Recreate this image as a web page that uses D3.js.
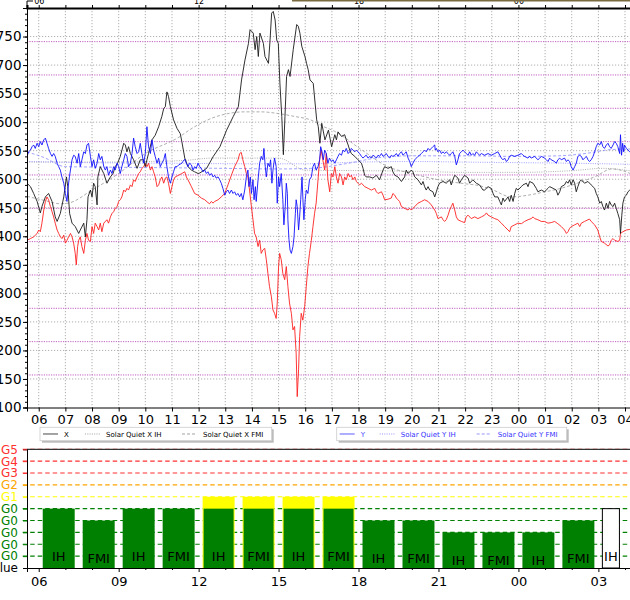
<!DOCTYPE html>
<html><head><meta charset="utf-8">
<script src="https://cdn.jsdelivr.net/npm/d3@7"></script>
<style>body{margin:0;background:#fff}svg{display:block}text{font-family:"DejaVu Sans",sans-serif}</style>
</head><body><svg id="c" width="630" height="600"></svg>
<script>
// ---------- DATA (t = hours since 00:00 of first day, values in nT-like units) ----------
const seriesX = [[5.56,493],[5.69,487],[5.81,475],[5.94,461],[6.06,441],[6.12,452],[6.25,469],[6.37,475],[6.50,461],[6.62,434],[6.69,426],[6.81,440],[6.94,469],[7.04,504],[7.09,487],[7.16,440],[7.25,423],[7.37,417],[7.50,405],[7.56,411],[7.69,423],[7.75,399],[7.81,429],[7.85,469],[7.94,481],[8.00,469],[8.06,493],[8.12,487],[8.19,455],[8.22,504],[8.31,522],[8.44,510],[8.56,493],[8.69,504],[8.79,510],[8.87,522],[8.96,528],[9.06,540],[9.19,563],[9.25,560],[9.31,548],[9.37,557],[9.44,545],[9.56,534],[9.69,519],[9.81,534],[9.94,534],[10.0,522],[10.06,534],[10.12,545],[10.25,569],[10.37,577],[10.50,592],[10.62,610],[10.69,624],[10.75,627],[10.81,653],[10.87,645],[10.94,627],[11.06,604],[11.19,589],[11.31,580],[11.37,566],[11.48,537],[11.60,522],[11.73,516],[11.85,513],[11.98,510],[12.05,511],[12.30,519],[12.55,540],[12.80,557],[13.05,586],[13.30,610],[13.49,627],[13.61,674],[13.74,709],[13.87,738],[13.93,762],[14.05,756],[14.12,727],[14.18,750],[14.24,715],[14.30,756],[14.43,738],[14.49,715],[14.62,703],[14.68,744],[14.74,791],[14.80,794],[14.87,779],[14.93,744],[14.99,738],[15.05,668],[15.12,610],[15.18,543],[15.24,610],[15.30,680],[15.37,692],[15.43,680],[15.55,727],[15.68,771],[15.74,768],[15.80,756],[15.87,733],[15.99,715],[16.05,703],[16.11,692],[16.18,674],[16.30,668],[16.43,604],[16.49,592],[16.55,563],[16.62,598],[16.74,569],[16.87,586],[16.99,557],[17.11,578],[17.17,569],[17.23,583],[17.36,575],[17.48,578],[17.54,569],[17.61,560],[17.67,551],[17.73,545],[17.86,540],[17.98,534],[18.11,528],[18.17,519],[18.23,507],[18.29,504],[18.42,504],[18.54,502],[18.67,507],[18.79,499],[18.92,516],[18.98,522],[19.11,519],[19.23,522],[19.29,513],[19.36,507],[19.48,504],[19.61,496],[19.73,504],[19.79,516],[19.86,510],[19.98,516],[20.04,513],[20.11,504],[20.23,499],[20.36,490],[20.42,496],[20.48,487],[20.54,481],[20.61,487],[20.67,481],[20.79,478],[20.86,469],[20.92,478],[20.98,487],[21.04,493],[21.17,496],[21.29,493],[21.42,499],[21.48,490],[21.54,499],[21.61,507],[21.73,502],[21.79,493],[21.86,499],[21.98,507],[22.11,502],[22.17,493],[22.29,499],[22.42,493],[22.54,490],[22.67,481],[22.73,481],[22.86,487],[22.98,484],[23.05,475],[23.11,469],[23.23,469],[23.30,461],[23.36,455],[23.42,467],[23.48,461],[23.61,469],[23.67,461],[23.73,472],[23.80,461],[23.86,475],[23.92,484],[23.98,481],[24.11,487],[24.17,490],[24.30,493],[24.36,487],[24.42,496],[24.55,493],[24.67,484],[24.73,478],[24.86,481],[24.98,478],[25.11,484],[25.17,487],[25.30,484],[25.42,481],[25.48,472],[25.55,478],[25.61,487],[25.73,490],[25.80,496],[25.86,493],[25.92,499],[25.98,490],[26.05,499],[26.11,493],[26.17,478],[26.23,487],[26.30,496],[26.36,499],[26.48,493],[26.61,496],[26.73,490],[26.86,484],[26.92,475],[26.98,469],[27.05,458],[27.11,461],[27.17,452],[27.23,446],[27.30,458],[27.36,449],[27.42,461],[27.48,455],[27.55,452],[27.61,458],[27.67,449],[27.73,440],[27.80,429],[27.83,405],[27.88,437],[27.92,458],[27.98,469],[28.05,472],[28.11,478],[28.18,481],[28.30,483]];

const seriesRed = [[5.56,393],[5.69,396],[5.81,399],[5.94,405],[6.00,411],[6.06,408],[6.12,423],[6.19,446],[6.25,461],[6.31,469],[6.37,464],[6.44,452],[6.50,443],[6.56,434],[6.62,423],[6.69,411],[6.75,405],[6.81,399],[6.87,396],[6.94,402],[7.00,388],[7.06,393],[7.12,399],[7.19,405],[7.25,399],[7.31,388],[7.37,370],[7.41,350],[7.46,382],[7.50,393],[7.56,399],[7.62,382],[7.69,370],[7.75,393],[7.81,405],[7.87,393],[7.94,391],[8.00,417],[8.06,405],[8.12,423],[8.19,417],[8.25,411],[8.31,423],[8.37,408],[8.44,423],[8.56,429],[8.62,423],[8.69,434],[8.75,440],[8.81,443],[8.87,449],[8.94,452],[9.00,461],[9.06,464],[9.12,469],[9.19,481],[9.25,478],[9.31,484],[9.37,481],[9.44,490],[9.50,487],[9.56,499],[9.62,496],[9.69,504],[9.75,510],[9.81,513],[9.87,519],[9.94,522],[10.00,528],[10.06,522],[10.12,528],[10.19,516],[10.25,522],[10.31,513],[10.37,504],[10.44,487],[10.50,490],[10.56,499],[10.62,504],[10.69,493],[10.75,502],[10.81,504],[10.87,493],[10.94,475],[11.00,487],[11.06,499],[11.12,504],[11.25,507],[11.37,510],[11.48,513],[11.54,504],[11.60,499],[11.73,487],[11.85,475],[11.98,472],[12.10,467],[12.23,464],[12.35,459],[12.41,457],[12.48,461],[12.54,458],[12.60,461],[12.73,464],[12.85,469],[12.98,475],[13.10,490],[13.23,507],[13.35,522],[13.48,534],[13.54,545],[13.60,547],[13.66,534],[13.73,522],[13.79,510],[13.85,504],[13.91,481],[13.98,452],[14.04,429],[14.10,405],[14.16,399],[14.23,382],[14.29,393],[14.35,370],[14.41,376],[14.48,379],[14.54,359],[14.60,335],[14.66,312],[14.73,294],[14.79,271],[14.85,265],[14.91,256],[14.95,283],[15.00,347],[15.04,370],[15.10,359],[15.16,335],[15.23,324],[15.29,347],[15.35,312],[15.41,283],[15.48,265],[15.54,236],[15.60,242],[15.66,195],[15.70,119],[15.75,166],[15.79,224],[15.85,265],[15.91,253],[15.98,277],[16.04,312],[16.10,347],[16.16,370],[16.23,393],[16.29,417],[16.35,440],[16.41,458],[16.48,499],[16.54,534],[16.60,551],[16.66,534],[16.73,516],[16.79,545],[16.85,499],[16.92,478],[16.98,510],[17.04,504],[17.11,522],[17.17,504],[17.23,493],[17.29,510],[17.36,504],[17.42,490],[17.48,504],[17.54,499],[17.61,510],[17.67,504],[17.73,507],[17.79,499],[17.86,504],[17.92,496],[17.98,493],[18.04,490],[18.11,493],[18.23,487],[18.36,484],[18.48,481],[18.61,484],[18.67,478],[18.73,475],[18.86,478],[18.92,472],[18.98,464],[19.11,465],[19.23,467],[19.29,475],[19.36,472],[19.42,467],[19.48,464],[19.54,461],[19.61,452],[19.73,449],[19.86,446],[19.92,449],[19.98,446],[20.04,449],[20.11,452],[20.23,458],[20.36,461],[20.48,464],[20.61,461],[20.73,455],[20.86,446],[20.92,440],[20.98,431],[21.11,434],[21.17,429],[21.23,426],[21.29,429],[21.36,437],[21.42,446],[21.48,452],[21.54,458],[21.61,446],[21.67,434],[21.73,429],[21.86,426],[21.98,424],[22.04,434],[22.11,437],[22.23,431],[22.36,434],[22.48,431],[22.61,434],[22.73,437],[22.80,441],[22.86,437],[22.98,434],[23.11,431],[23.23,429],[23.36,423],[23.48,417],[23.61,411],[23.67,408],[23.73,417],[23.86,420],[23.98,423],[24.11,422],[24.23,426],[24.36,429],[24.48,431],[24.55,434],[24.61,431],[24.73,429],[24.86,426],[24.98,426],[25.11,423],[25.23,424],[25.36,426],[25.48,422],[25.61,417],[25.73,411],[25.80,405],[25.86,408],[25.92,414],[25.98,417],[26.11,420],[26.23,423],[26.30,417],[26.36,423],[26.48,426],[26.61,429],[26.67,430],[26.73,426],[26.86,420],[26.98,411],[27.05,399],[27.11,391],[27.23,388],[27.36,383],[27.42,385],[27.48,393],[27.55,396],[27.61,393],[27.73,391],[27.80,393],[27.83,405],[27.92,408],[28.05,411],[28.18,412],[28.30,413]];

const seriesY = [[5.56,540],[5.62,548],[5.69,551],[5.75,557],[5.81,560],[5.87,554],[5.94,563],[6.00,557],[6.06,566],[6.12,560],[6.19,569],[6.25,572],[6.31,563],[6.37,554],[6.44,545],[6.50,540],[6.56,545],[6.62,540],[6.69,528],[6.75,522],[6.81,516],[6.87,504],[6.94,493],[7.00,475],[7.06,461],[7.10,484],[7.15,504],[7.19,516],[7.25,534],[7.31,542],[7.37,540],[7.44,528],[7.50,545],[7.56,522],[7.62,534],[7.69,548],[7.75,545],[7.81,560],[7.87,563],[7.94,540],[8.00,522],[8.06,534],[8.12,519],[8.19,528],[8.25,545],[8.31,534],[8.37,540],[8.44,522],[8.50,516],[8.56,522],[8.62,507],[8.69,516],[8.75,510],[8.81,522],[8.87,516],[8.94,528],[9.00,522],[9.06,510],[9.12,522],[9.19,534],[9.25,545],[9.31,540],[9.37,522],[9.44,528],[9.50,545],[9.56,572],[9.62,557],[9.69,545],[9.75,548],[9.81,563],[9.87,545],[9.94,528],[10.00,545],[10.06,592],[10.12,557],[10.19,545],[10.25,569],[10.31,551],[10.37,540],[10.44,528],[10.50,537],[10.56,522],[10.62,528],[10.69,534],[10.75,545],[10.81,522],[10.87,504],[10.94,493],[11.00,504],[11.06,513],[11.12,522],[11.19,522],[11.25,525],[11.37,528],[11.41,531],[11.48,535],[11.54,528],[11.60,522],[11.66,528],[11.73,525],[11.79,516],[11.85,522],[11.91,519],[11.98,528],[12.04,522],[12.10,519],[12.16,513],[12.23,516],[12.29,510],[12.35,513],[12.41,507],[12.48,510],[12.54,504],[12.60,507],[12.66,502],[12.73,504],[12.79,499],[12.85,493],[12.91,484],[12.98,472],[13.04,478],[13.10,481],[13.16,475],[13.23,481],[13.29,475],[13.35,478],[13.41,472],[13.48,475],[13.54,469],[13.60,475],[13.66,464],[13.73,481],[13.79,504],[13.85,516],[13.89,487],[13.94,504],[13.98,475],[14.04,499],[14.08,464],[14.13,487],[14.16,461],[14.23,499],[14.29,528],[14.35,540],[14.41,534],[14.45,554],[14.50,522],[14.54,504],[14.60,528],[14.66,522],[14.70,534],[14.75,493],[14.79,516],[14.85,537],[14.91,522],[14.95,458],[15.00,504],[15.04,487],[15.10,510],[15.16,464],[15.20,420],[15.25,452],[15.29,493],[15.33,475],[15.35,429],[15.39,394],[15.43,376],[15.48,370],[15.54,382],[15.58,399],[15.63,440],[15.66,464],[15.70,452],[15.75,411],[15.79,434],[15.83,464],[15.88,504],[15.91,469],[15.95,429],[16.00,464],[16.04,481],[16.10,475],[16.16,499],[16.23,504],[16.29,522],[16.35,528],[16.41,516],[16.48,522],[16.54,534],[16.58,557],[16.63,548],[16.68,534],[16.73,551],[16.79,545],[16.85,528],[16.91,537],[16.98,531],[17.04,534],[17.11,528],[17.17,534],[17.23,540],[17.29,545],[17.36,542],[17.42,551],[17.48,548],[17.54,554],[17.61,545],[17.67,548],[17.73,554],[17.79,551],[17.86,548],[17.92,551],[17.98,548],[18.04,545],[18.11,540],[18.17,537],[18.23,540],[18.29,542],[18.36,537],[18.42,540],[18.48,537],[18.54,542],[18.61,540],[18.67,537],[18.73,542],[18.79,540],[18.86,545],[18.92,540],[18.98,542],[19.04,545],[19.11,540],[19.17,537],[19.23,542],[19.29,540],[19.36,542],[19.42,545],[19.48,540],[19.54,545],[19.61,548],[19.67,542],[19.73,545],[19.79,548],[19.86,537],[19.92,531],[19.98,522],[20.04,528],[20.11,534],[20.17,537],[20.23,540],[20.29,542],[20.36,545],[20.42,548],[20.48,551],[20.54,548],[20.61,554],[20.67,551],[20.73,554],[20.79,557],[20.86,560],[20.88,551],[20.92,554],[20.98,548],[21.04,551],[21.11,545],[21.17,548],[21.23,545],[21.29,548],[21.36,545],[21.42,542],[21.48,545],[21.54,548],[21.61,540],[21.67,525],[21.73,534],[21.79,545],[21.86,548],[21.92,551],[21.98,548],[22.04,545],[22.11,542],[22.17,548],[22.23,542],[22.29,545],[22.36,542],[22.42,548],[22.48,545],[22.54,542],[22.61,545],[22.73,542],[22.86,545],[22.98,542],[23.11,545],[23.23,548],[23.30,542],[23.36,537],[23.42,534],[23.48,537],[23.55,531],[23.61,534],[23.67,540],[23.73,542],[23.86,540],[23.98,542],[24.11,545],[24.17,542],[24.23,540],[24.36,537],[24.42,540],[24.48,537],[24.61,540],[24.73,534],[24.80,537],[24.86,540],[24.98,537],[25.05,534],[25.11,531],[25.17,537],[25.23,534],[25.36,531],[25.42,528],[25.48,534],[25.55,537],[25.61,534],[25.73,537],[25.80,531],[25.86,534],[25.92,531],[25.98,522],[26.05,516],[26.11,522],[26.17,528],[26.23,540],[26.30,542],[26.36,540],[26.42,534],[26.48,537],[26.55,540],[26.61,534],[26.67,531],[26.73,534],[26.80,540],[26.86,548],[26.92,557],[26.98,563],[27.05,560],[27.11,566],[27.17,557],[27.23,554],[27.30,560],[27.36,563],[27.42,557],[27.48,554],[27.55,560],[27.61,566],[27.67,563],[27.73,557],[27.80,545],[27.83,578],[27.87,542],[27.91,563],[27.95,548],[27.98,560],[28.05,554],[28.11,551],[28.18,548],[28.30,550]];

// Solar quiet reference curves (smooth)
const sqXIH  = [[5.56,530],[8,530],[10,531],[11.5,533],[12.5,537],[15.0,537],[16.0,516],[18,515],[20,514],[22,512],[24,512],[26,515],[27.2,519],[28.3,514]];
const sqXFMI = [[5.56,470],[6.2,463],[6.8,457],[7.1,458],[8.0,481],[9.0,510],[10.0,545],[11.2,572],[11.85,592],[12.5,607],[13.1,615],[13.7,618],[14.35,618],[15.0,615],[15.6,610],[16.2,604],[16.7,592],[17.1,584],[18.1,552],[19.1,522],[20,510],[21,499],[22,492],[22.5,489],[23,482],[23.73,469],[24.36,472],[25.0,478],[25.6,484],[26.2,493],[26.9,505],[27.5,518],[27.9,515],[28.3,508]];
const sqYIH  = [[5.56,531],[8,529],[11,528],[14,527],[16,527],[18,530],[20,531],[22,530],[24,529],[26,528],[28.3,526]];
const sqYFMI = [[5.56,548],[6.2,538],[7.0,522],[9,521],[11,520],[13,519],[15,518],[16.2,519],[17.5,527],[18.8,538],[20,541],[22,541],[24,540],[25.5,541],[26.5,545],[27.5,552],[28.3,553]];

// Storm-level bars (3-hour slots split in IH / FMI halves)
const barSlotStart = [6,7.5,9,10.5,12,13.5,15,16.5,18,19.5,21,22.5,24,25.5,27];
const barValue     = [5,4,5,5,5,5,5,5,4,4,3,3,3,4,5];
const barStorm     = [0,0,0,0,6,6,6,6,0,0,0,0,0,0,0];
const barSource    = ["IH","FMI","IH","FMI","IH","FMI","IH","FMI","IH","FMI","IH","FMI","IH","FMI","IH"];
const barPending   = [false,false,false,false,false,false,false,false,false,false,false,false,false,false,true];
const pendingEnd   = 27.79;

const levelLabels = ["Value","G0","G0","G0","G0","G0","G1","G2","G3","G4","G5"];
const levelColors = ["#000","#008000","#008000","#008000","#008000","#008000","#ffff00","#ffa500","#ff3030","#ff3030","#ff3030"];

const yTicks = d3.range(100, 751, 50);
const hourTicks = d3.range(6, 29);
const legend1 = [{label:"X", dash:null, color:"#333", text:"#000"},{label:"Solar Quiet X IH", dash:"1,1.3", color:"#999", text:"#000"},{label:"Solar Quiet X FMI", dash:"3,2", color:"#999", text:"#000"}];
const legend2 = [{label:"Y", dash:null, color:"#4a4aff", text:"#4a4aff"},{label:"Solar Quiet Y IH", dash:"1,1.3", color:"#8a8aff", text:"#3333ff"},{label:"Solar Quiet Y FMI", dash:"3,2", color:"#8a8aff", text:"#3333ff"}];

// ---------- DRAW ----------
const svg = d3.select("#c");
svg.append("rect").attr("width",630).attr("height",600).attr("fill","#fff");
const fmtH = h => String(Math.round(h) % 24).padStart(2,"0");

const x = d3.scaleLinear().domain([5.56, 29.56]).range([27, 666.6]);
const y = d3.scaleLinear().domain([100, 800]).range([407.5, 8]);
const y2 = d3.scaleLinear().domain([0, 12]).range([408.3, 8.3]);

svg.append("defs").append("clipPath").attr("id","clipTop").append("rect")
  .attr("x",27).attr("y",8).attr("width",640).attr("height",400);

const gTop = svg.append("g");
gTop.append("g").selectAll("line").data(hourTicks).join("line")
  .attr("x1",d=>x(d)).attr("x2",d=>x(d)).attr("y1",8).attr("y2",407.5)
  .attr("stroke","#9a9a9a").attr("stroke-width",0.8).attr("stroke-dasharray","1.2,1.8");
gTop.append("g").selectAll("line").data(yTicks.filter(v=>v>100)).join("line")
  .attr("x1",27).attr("x2",640).attr("y1",d=>y(d)).attr("y2",d=>y(d))
  .attr("stroke","#9a9a9a").attr("stroke-width",0.8).attr("stroke-dasharray","1.2,1.8");
gTop.append("g").selectAll("line").data(d3.range(1,12)).join("line")
  .attr("x1",27).attr("x2",640).attr("y1",d=>y2(d)).attr("y2",d=>y2(d))
  .attr("stroke","#c060c0").attr("stroke-width",1).attr("stroke-dasharray","1.2,1.2");

const smooth = d3.line().x(d=>x(d[0])).y(d=>y(d[1])).curve(d3.curveMonotoneX);
const raw = d3.line().x(d=>x(d[0])).y(d=>y(d[1]));
const plot = gTop.append("g").attr("clip-path","url(#clipTop)");
plot.append("path").datum(sqXFMI).attr("d",smooth).attr("fill","none").attr("stroke","#999").attr("stroke-width",0.8).attr("stroke-dasharray","3,2");
plot.append("path").datum(sqXIH).attr("d",smooth).attr("fill","none").attr("stroke","#999").attr("stroke-width",0.8).attr("stroke-dasharray","1,1.3");
plot.append("path").datum(sqYFMI).attr("d",smooth).attr("fill","none").attr("stroke","#8a8aff").attr("stroke-width",0.8).attr("stroke-dasharray","3,2");
plot.append("path").datum(sqYIH).attr("d",smooth).attr("fill","none").attr("stroke","#8a8aff").attr("stroke-width",0.8).attr("stroke-dasharray","1,1.3");
plot.append("path").datum(seriesRed).attr("d",raw).attr("fill","none").attr("stroke","#ff2020").attr("stroke-width",0.9);
plot.append("path").datum(seriesX).attr("d",raw).attr("fill","none").attr("stroke","#1a1a1a").attr("stroke-width",0.9);
plot.append("path").datum(seriesY).attr("d",raw).attr("fill","none").attr("stroke","#1010ff").attr("stroke-width",0.9);

const yAxis = gTop.append("g").attr("transform","translate(27,0)")
  .call(d3.axisLeft(y).tickValues(yTicks).tickSize(4).tickPadding(1.5).tickFormat(d3.format("d")));
gTop.append("g").attr("transform","translate(27,0)")
  .call(d3.axisLeft(y).tickValues(d3.range(100,801,10)).tickSize(2).tickFormat(""))
  .call(g=>g.select(".domain").remove());
yAxis.selectAll("text").attr("font-size",13.5).attr("font-family","DejaVu Sans");
const xAxis = gTop.append("g").attr("transform","translate(0,407.5)")
  .call(d3.axisBottom(x).tickValues(hourTicks).tickSize(4).tickPadding(3).tickFormat(fmtH));
xAxis.selectAll("text").attr("font-size",13).attr("font-family","DejaVu Sans");
const tAxis = gTop.append("g").attr("transform","translate(0,8)")
  .call(d3.axisTop(x).tickValues(hourTicks).tickSize(3).tickPadding(1).tickFormat(d=> (d%6===0)? fmtH(d):""));
tAxis.selectAll("text").attr("font-size",8).attr("font-family","DejaVu Sans");
tAxis.select(".domain").attr("stroke-width",2);
svg.append("line").attr("x1",292).attr("x2",630).attr("y1",0.7).attr("y2",0.7).attr("stroke","#7a6a40").attr("stroke-width",1.5);
svg.append("path").attr("d","M27,8V1H33").attr("fill","none").attr("stroke","#000").attr("stroke-width",1);

function legend(items, x0, widths, boxW){
  const g = svg.append("g").attr("transform",`translate(${x0},427.3)`);
  g.append("rect").attr("x",2).attr("y",2).attr("width",boxW).attr("height",13.4).attr("fill","#bbb");
  g.append("rect").attr("width",boxW).attr("height",13.4).attr("fill","#fff").attr("stroke","#ccc").attr("stroke-width",0.8);
  let cx = 3;
  items.forEach((it,i)=>{
    g.append("line").attr("x1",cx).attr("x2",cx+15).attr("y1",6.7).attr("y2",6.7)
      .attr("stroke",it.color).attr("stroke-width",0.9).attr("stroke-dasharray",it.dash);
    g.append("text").attr("x",cx+21).attr("y",9.3).attr("font-size",7).attr("fill",it.text).text(it.label);
    cx += widths[i];
  });
}
legend(legend1, 40, [42,97,0], 231.7);
legend(legend2, 336.7, [40,97,0], 230);

const yb = d3.scaleLinear().domain([0,10]).range([568,449.3]);
const bot = svg.append("g");
bot.append("g").selectAll("line").data(d3.range(1,11)).join("line")
  .attr("x1",22.7).attr("x2",640).attr("y1",d=>yb(d)).attr("y2",d=>yb(d))
  .attr("stroke",d=>levelColors[d]).attr("stroke-width",1.1).attr("stroke-dasharray","4.5,3");
const slotW = 1.5;
const bars = barSlotStart.map((s,i)=>({s, v:barValue[i], st:barStorm[i], src:barSource[i], pend:barPending[i]}));
bars.forEach(b=>{
  const x0 = x(b.s + 0.15), x1 = b.pend ? x(pendingEnd) : x(b.s + slotW - 0.15);
  if(b.st){
    bot.append("rect").attr("x",x0).attr("y",yb(b.st)).attr("width",x1-x0).attr("height",yb(0)-yb(b.st)).attr("fill","#ffff00");
    bot.append("rect").attr("x",x0+1).attr("y",yb(b.v)).attr("width",x1-x0-2).attr("height",yb(0)-yb(b.v)).attr("fill","#008000");
  } else if(b.pend){
    bot.append("rect").attr("x",x0).attr("y",yb(b.v)).attr("width",x1-x0).attr("height",yb(0)-yb(b.v)).attr("fill","#fff").attr("stroke","#000").attr("stroke-width",1);
  } else {
    bot.append("rect").attr("x",x0).attr("y",yb(b.v)).attr("width",x1-x0).attr("height",yb(0)-yb(b.v)).attr("fill","#008000");
  }
  bot.append("text").attr("x",(x0+x1)/2).attr("y",yb(0.14*b.v+0.25)).attr("dy","0.35em")
    .attr("text-anchor","middle").attr("font-size",13).attr("fill","#000").text(b.src);
});
bot.append("line").attr("x1",27).attr("x2",640).attr("y1",449.3).attr("y2",449.3).attr("stroke","#333").attr("stroke-width",1.2);
const ybAxis = bot.append("g").attr("transform","translate(27,0)")
  .call(d3.axisLeft(yb).tickValues(d3.range(0,11)).tickSize(4).tickPadding(5).tickFormat(d=>levelLabels[d]));
ybAxis.selectAll("text").attr("font-size",12).attr("fill",d=>levelColors[d]).attr("font-family","DejaVu Sans");
ybAxis.selectAll(".tick line").attr("stroke",d=>levelColors[d]);
const xbAxis = bot.append("g").attr("transform","translate(0,568)")
  .call(d3.axisBottom(x).tickValues(d3.range(6,29,3)).tickSize(4).tickPadding(5).tickFormat(fmtH));
xbAxis.selectAll("text").attr("font-size",13).attr("font-family","DejaVu Sans");
bot.append("g").attr("transform","translate(0,568)")
  .call(d3.axisBottom(x).tickValues(hourTicks.filter(h=>h%3)).tickSize(2).tickFormat(""))
  .call(g=>g.select(".domain").remove());
</script></body></html>
